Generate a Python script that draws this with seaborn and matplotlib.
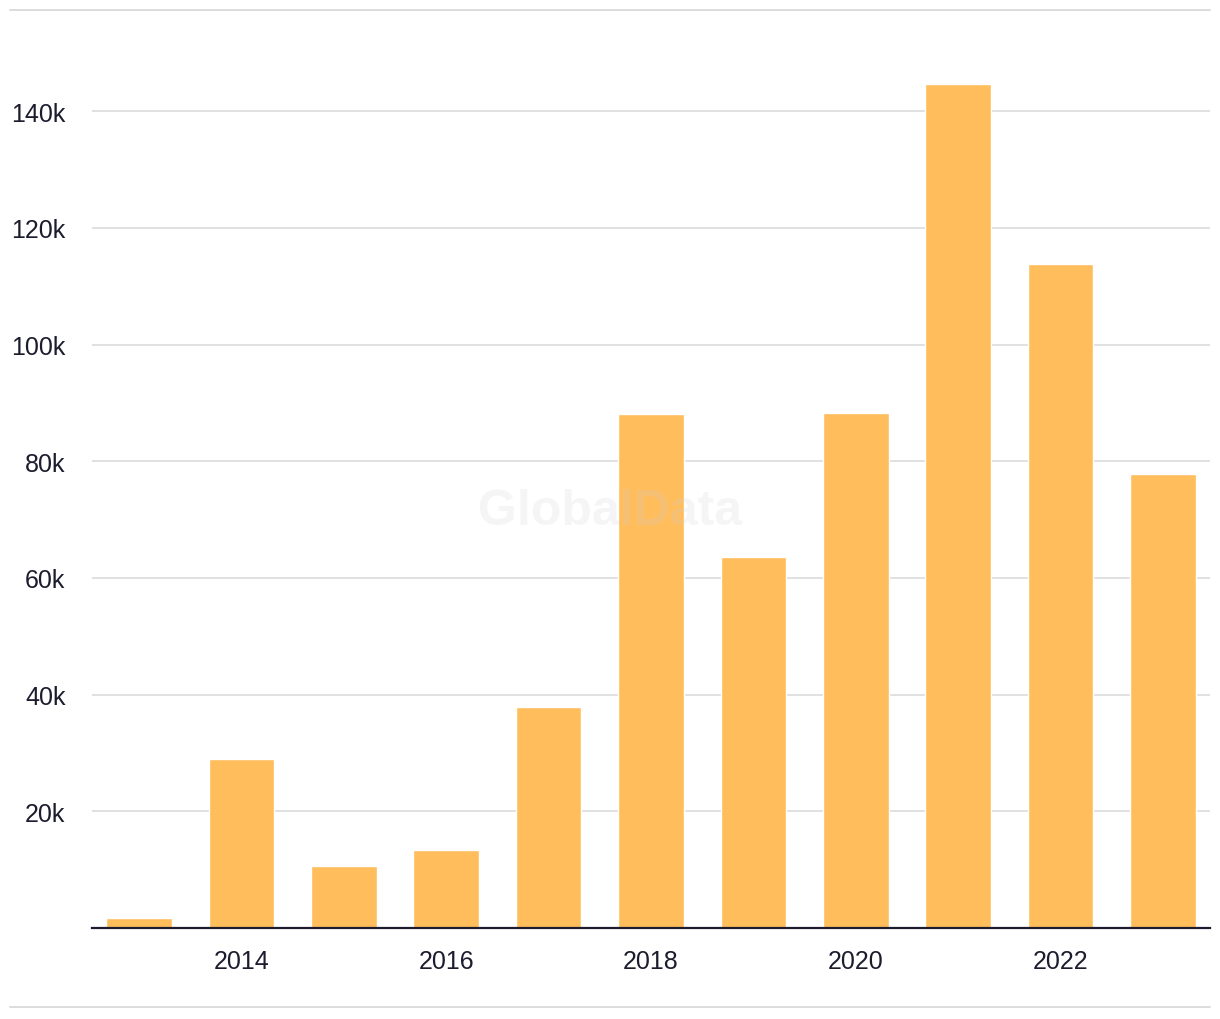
import numpy as np
import pandas as pd
import matplotlib
matplotlib.use('Agg')
import matplotlib.pyplot as plt
import seaborn as sns
from matplotlib.lines import Line2D

# data
years = ['2013', '2014', '2015', '2016', '2017', '2018', '2019', '2020', '2021', '2022', '2023']
values = [1700, 29000, 10600, 13400, 37900, 88100, 63600, 88300, 144600, 113800, 77800]
tick_years = ['2014', '2016', '2018', '2020', '2022']
y_ticks = [20000, 40000, 60000, 80000, 100000, 120000, 140000]
y_labels = ['20k', '40k', '60k', '80k', '100k', '120k', '140k']

df = pd.DataFrame({'year': years, 'value': values})

sns.set_style('white')
plt.rcParams['font.family'] = ['Liberation Sans', 'DejaVu Sans']
text_col = '#1c1c2e'

fig = plt.figure(figsize=(12.2, 10.2), dpi=100)
ax = fig.add_axes([92 / 1220, 91 / 1020, (1210 - 92) / 1220, (928 - 52.75) / 1020])

sns.barplot(data=df, x='year', y='value', color='#FFBD5C', saturation=1, width=0.64, ax=ax, zorder=2)

ax.set_xlim(-0.46, len(years) - 0.54)
ax.set_ylim(0, 150000)

# gridlines
ax.set_yticks(y_ticks)
ax.set_yticklabels(y_labels)
ax.yaxis.grid(True, color='#d9d9d9', linewidth=1.1, zorder=0)
ax.set_axisbelow(True)

pos = [years.index(y) for y in tick_years]
ax.set_xticks(pos)
ax.set_xticklabels(tick_years)

ax.tick_params(axis='both', length=0, labelsize=18, colors=text_col)
ax.tick_params(axis='y', pad=19)
ax.tick_params(axis='x', pad=15)
ax.set_xlabel('')
ax.set_ylabel('')

for s in ['top', 'right', 'left']:
    ax.spines[s].set_visible(False)
ax.spines['bottom'].set_color(text_col)
ax.spines['bottom'].set_linewidth(1.6)
ax.spines['bottom'].set_zorder(3)

# watermark
fig.text(610 / 1220, 1 - 512 / 1020, 'GlobalData', ha='center', va='center',
         fontsize=36, fontweight='bold', color='#d0d0d0', alpha=0.2, zorder=5)

# top and bottom rules
fig.add_artist(Line2D([10 / 1220, 1210 / 1220], [1 - 11 / 1020, 1 - 11 / 1020], color='#d9d9d9', linewidth=1.3))
fig.add_artist(Line2D([10 / 1220, 1210 / 1220], [1 - 1008 / 1020, 1 - 1008 / 1020], color='#d9d9d9', linewidth=1.3))

fig.savefig('out.png', dpi=100)
